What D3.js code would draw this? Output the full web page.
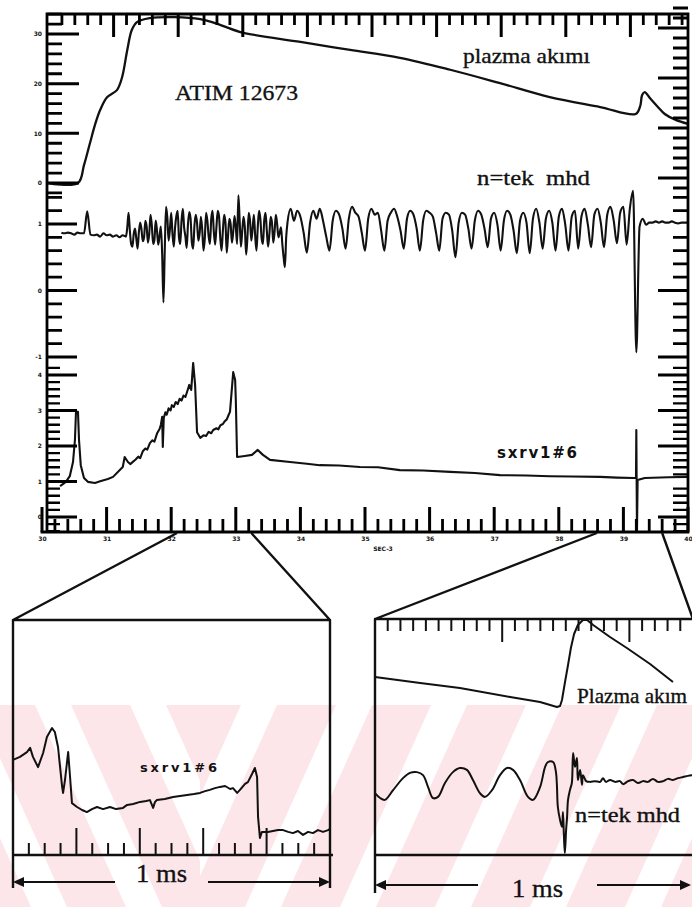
<!DOCTYPE html>
<html>
<head>
<meta charset="utf-8">
<script src="https://cdn.jsdelivr.net/npm/d3@7"></script>
<style>
  body { margin: 0; background: #fff; }
  svg { display: block; }
  .serif { font-family: "Liberation Serif", "Times New Roman", serif; fill: #111; stroke: #111; stroke-width: 0.35px; }
  .mono { font-family: "DejaVu Sans", sans-serif; font-weight: bold; fill: #111; }
  .tick text { font-family: "DejaVu Sans", sans-serif; font-weight: bold; font-size: 6px; fill: #111; }
</style>
</head>
<body>
<svg id="chart" width="692" height="907"></svg>
<script>
// ---------- shot 12673: main oscilloscope record ----------
const mainTimeDomain = [30, 40];                 // ms
const mainTickLabels = ["30","31","32","33","34","35","36","37","38","39","40"];
const mainAxisUnit = "SEC-3";

// plasma current (kA)
const currentT = [30.09,30.557,30.65,30.743,30.82,30.90,31.01,31.16,31.24,31.32,31.39,31.47,31.67,32.06,32.45,32.68,33.07,34.0,34.77,35.54,36.32,37.09,37.86,38.64,39.19,39.26,39.29,39.33,39.41,39.52,39.64,39.81,40.0];
const currentI = [0,0,3.6,8.05,11.7,14.7,17.3,18.7,21.3,26.8,30.8,32.4,33.2,33.4,33.0,32.2,30.4,28.4,26.8,25.2,22.8,20.1,17.3,15.3,13.9,15.5,17.7,18.3,17.1,15.5,13.9,12.7,11.9];
const currentTickLabels = ["0","10","20","30"];

// odd-n MHD coil signal: quiet start (0.05 ms samples from 30.30 ms)
const mhdQuietStart = 30.30, mhdQuietStep = 0.05;
const mhdQuiet = [0.87,0.86,0.87,0.86,0.84,0.87,0.86,0.86,1.19,0.84,
                  0.83,0.84,0.81,0.86,0.83,0.84,0.81,0.83,0.80,0.83];
// broadband burst (0.02 ms samples from 31.30 ms)
const mhdBurstStart = 31.30, mhdBurstStep = 0.02;
const mhdBurst = [
  0.81,0.95,1.17,0.90,0.70,0.66,0.85,0.93,0.78,0.63,
  0.88,1.02,0.92,0.74,0.80,1.05,0.96,0.72,0.85,1.14,
  0.98,0.70,0.76,1.05,0.90,0.69,0.82,0.96,0.55,-0.18,
  0.60,1.26,1.10,0.75,0.92,1.17,0.85,0.66,0.95,1.12,
  1.20,0.80,0.70,1.05,1.23,0.95,0.81,0.64,1.00,1.18,
  1.08,0.72,0.63,0.98,1.14,1.02,0.75,0.86,1.11,0.92,
  0.60,0.78,1.17,1.05,0.81,0.70,1.08,1.20,0.88,0.69,
  0.95,1.20,1.12,0.78,0.60,0.90,1.14,1.02,0.57,0.83,
  1.08,1.00,0.72,0.88,1.12,0.96,0.70,1.43,1.05,0.66,
  0.90,1.11,0.95,0.54,0.80,1.17,1.05,0.75,0.93,1.14,
  0.82,0.60,0.95,1.20,1.08,0.78,0.70,1.05,1.17,0.90,
  0.66,0.85,1.11,1.02,0.72,0.88,1.14,1.00,0.80,0.87,
  0.95,0.70,0.50,0.35,0.80,1.02
];
// coherent mode and disruption (0.05 ms samples from 33.85 ms)
const mhdModeStart = 33.85, mhdModeStep = 0.05;
const mhdMode = [
  1.23,1.05,1.20,1.11,0.87,0.57,1.02,1.20,1.08,
  1.23,1.05,0.81,0.60,1.05,1.20,1.14,0.93,0.63,1.08,
  1.26,1.17,1.11,0.87,0.60,1.08,1.23,1.14,1.17,0.90,
  0.60,1.05,1.17,1.23,1.11,0.90,0.63,1.08,1.20,1.14,
  0.93,0.60,1.05,1.20,1.17,1.11,0.87,0.60,1.08,1.17,
  1.14,0.90,0.50,1.02,1.17,1.14,0.93,0.63,1.05,1.20,
  1.14,0.93,0.65,1.08,1.17,0.99,0.60,1.05,1.20,1.14,
  0.90,0.56,1.05,1.17,1.02,0.56,1.08,1.23,1.02,0.63,
  1.08,1.20,1.02,0.60,1.11,1.23,0.99,0.60,1.11,1.20,
  0.63,1.11,1.23,0.99,0.65,1.14,1.23,1.02,0.65,1.14,
  1.26,1.05,0.71,1.17,1.26,0.69,1.23,1.50,-0.93,0.96,
  1.08,0.99,1.02,1.02,1.04,1.02,1.04,1.02,1.02,1.04,
  1.02,1.01,1.02,1.02,1.02
];
const mhdTickLabels = ["-1","0","1"];

// soft X-ray channel sxrv1#6
const sxrT = [30.28,30.37,30.43,30.48,30.51,30.526,30.557,30.573,30.60,30.65,30.71,30.82,30.90,31.02,31.10,31.25,31.28,
  31.33,31.37,31.41,31.45,31.49,31.52,31.56,31.60,31.63,31.67,31.71,31.74,31.78,31.82,31.84,31.86,31.87,31.885,31.91,31.93,31.96,31.99,
  32.01,32.04,32.07,32.10,32.13,32.16,32.19,32.22,32.25,32.28,32.31,32.34,32.37,32.40,32.45,32.50,32.54,32.58,32.62,32.65,32.70,32.73,
  32.76,32.80,32.83,32.86,32.89,32.91,32.96,32.99,33.00,33.02,33.14,33.25,33.34,33.42,33.53,33.84,34.1,34.30,34.6,34.92,35.2,35.54,
  35.9,36.32,36.7,37.09,37.5,37.86,38.2,38.64,38.9,39.16,39.195,39.20,39.21,39.22,39.33,39.7,40.0];
const sxrS = [0.87,0.99,1.15,1.55,2.17,2.96,2.96,2.17,1.46,1.10,0.99,0.96,1.01,1.07,1.13,1.41,1.69,
  1.55,1.49,1.56,1.62,1.70,1.66,1.85,1.93,1.90,2.08,2.16,2.12,2.35,2.48,2.60,2.82,1.97,2.79,2.95,2.88,3.06,3.00,
  3.15,3.10,3.24,3.18,3.33,3.28,3.42,3.38,3.55,3.72,3.58,4.34,3.72,2.39,2.23,2.30,2.28,2.40,2.36,2.45,2.50,2.47,
  2.58,2.62,2.70,2.75,2.88,2.96,4.08,3.86,3.30,1.69,1.72,1.75,1.89,1.75,1.61,1.55,1.50,1.46,1.45,1.41,1.40,1.32,
  1.31,1.27,1.24,1.18,1.17,1.15,1.14,1.13,1.11,1.10,1.10,2.45,-0.42,1.04,1.10,1.12,1.13];
const sxrTickLabels = ["0","1","2","3","4"];

// expanded time windows (ms on the main record)
const leftZoomWindow = [32.09, 33.24];
const rightZoomWindow = [38.59, 39.60];

// ---------- left expansion: sxrv1#6 over 1 ms ----------
const insetSxrT = [0,0.022,0.044,0.054,0.063,0.079,0.095,0.107,0.123,0.132,0.142,0.155,0.158,0.164,0.174,0.180,0.186,0.202,0.218,0.233,0.249,0.265,0.284,0.306,0.325,0.347,0.360,0.379,0.401,0.420,0.432,0.442,0.448,0.454,0.479,0.505,0.527,0.549,0.571,0.590,0.606,0.621,0.637,0.653,0.669,0.685,0.694,0.707,0.716,0.732,0.741,0.754,0.763,0.770,0.773,0.779,0.785,0.804,0.820,0.836,0.852,0.868,0.883,0.899,0.915,0.931,0.946,0.962,0.978,0.994,1.0];
const insetSxrS = [3.17,3.27,3.43,3.57,3.27,2.93,3.40,3.93,4.23,4.10,3.60,2.27,2.07,2.50,3.43,2.60,1.73,1.60,1.50,1.43,1.53,1.60,1.53,1.60,1.53,1.57,1.67,1.70,1.77,1.80,1.83,1.57,1.77,1.83,1.87,1.93,1.97,2.00,2.03,2.07,2.13,2.17,2.23,2.27,2.30,2.20,2.23,2.07,2.17,2.37,2.43,2.70,2.90,2.60,1.27,0.57,0.77,0.77,0.80,0.83,0.83,0.77,0.73,0.80,0.67,0.77,0.73,0.83,0.77,0.83,0.87];

// ---------- right expansion: plasma current + odd-n MHD over 1 ms ----------
const insetIpT = [0,0.142,0.267,0.425,0.519,0.572,0.582,0.588,0.597,0.607,0.616,0.626,0.638,0.654,0.667,0.686,0.739,0.792,0.865,0.937];
const insetIpI = [4.3,3.7,3.2,2.3,1.8,1.3,1.4,2.0,3.7,5.5,7.2,8.6,9.5,10.0,10.0,9.5,8.3,7.2,5.6,3.8];
const insetMhdT = [0,0.016,0.031,0.057,0.088,0.110,0.132,0.151,0.167,0.182,0.198,0.220,0.245,0.267,0.289,0.308,0.330,0.346,0.368,0.393,0.415,0.434,0.456,0.481,0.497,0.519,0.535,0.544,0.560,0.569,0.572,0.575,0.582,0.588,0.591,0.594,0.597,0.601,0.604,0.607,0.613,0.619,0.623,0.629,0.635,0.638,0.645,0.651,0.654,0.664,0.676,0.692,0.708,0.717,0.726,0.739,0.755,0.770,0.780,0.796,0.811,0.827,0.843,0.858,0.874,0.890,0.906,0.921,0.937,0.953,0.969,0.984,1.0];
const insetMhdV = [-0.35,-0.48,-0.53,-0.27,0.05,0.19,0.21,0.13,-0.19,-0.48,-0.45,-0.08,0.21,0.32,0.27,0.00,-0.35,-0.45,-0.27,0.13,0.32,0.27,0.00,-0.45,-0.53,-0.19,0.35,0.48,0.48,0.21,-0.13,-0.72,-1.07,-1.25,-0.85,-1.47,-1.95,-1.33,-0.99,-0.53,-0.27,-0.08,0.72,0.35,0.59,0.00,0.27,-0.13,0.13,-0.03,-0.05,-0.03,-0.05,0.05,-0.05,0.00,-0.05,-0.03,-0.11,-0.03,0.00,-0.08,-0.03,-0.05,0.03,-0.05,-0.03,0.03,0.00,0.05,0.08,0.11,0.13];

// ================== drawing ==================
const svg = d3.select("#chart");
const INK = "#111";

// faint diagonal background print in the lower part of the sheet
(function background() {
  const g = svg.append("g");
  const top = 705, bottom = 907, run = 91, band = 36, period = 95;
  g.append("rect").attr("x", 0).attr("y", top).attr("width", 692).attr("height", bottom - top).attr("fill", "#fce6e9");
  const defs = svg.append("defs");
  [["bgL", 0, 200], ["bgR", 200, 692]].forEach(([id, x0, x1]) => {
    defs.append("clipPath").attr("id", id).append("rect").attr("x", x0).attr("y", top).attr("width", x1 - x0).attr("height", bottom - top);
  });
  const back = g.append("g").attr("clip-path", "url(#bgL)");
  d3.range(-2, 3).forEach(k => {
    const a = 35 + k * period;
    back.append("polygon").attr("fill", "#fff")
      .attr("points", [[a, top], [a + band, top], [a + band + run, bottom], [a + run, bottom]].join(" "));
  });
  const fwd = g.append("g").attr("clip-path", "url(#bgR)");
  d3.range(0, 9).forEach(k => {
    const b = 150 + k * period;
    fwd.append("polygon").attr("fill", "#fff")
      .attr("points", [[b, bottom], [b + band, bottom], [b + band + run, top], [b + run, top]].join(" "));
  });
})();

// scales of the main record
const xM   = d3.scaleLinear().domain(mainTimeDomain).range([42, 688]);
const xTop = d3.scaleLinear().domain(mainTimeDomain).range([49, 695]);
const yI   = d3.scaleLinear().domain([0, 30]).range([183, 34]);
const yIr  = d3.scaleLinear().domain([0, 30]).range([178, 28]);
const yM   = d3.scaleLinear().domain([-1, 1]).range([357, 224]);
const yS   = d3.scaleLinear().domain([0, 4]).range([517, 375]);

// evenly spaced tick values
function tickValues(first, count, spacing) {
  const out = [];
  for (let k = 0; k < count; k++) out.push(Math.round((first + k * spacing) * 1000) / 1000);
  return out;
}
const isWhole = d => Math.abs(d - Math.round(d)) < 1e-6;

// one stroked path per comb of tick marks along an edge
function combPath(scale, values, along, at, len) {
  return values.map(v => {
    const p = scale(v);
    return along === "x" ? `M${p},${at}V${at + len}` : `M${at},${p}H${at + len}`;
  }).join("");
}
// tick labels through d3 axes
function tickLabels(parent, axis, values, labels, pad) {
  const g = parent.append("g");
  g.call(axis.tickValues(values).tickSize(0).tickPadding(pad).tickFormat((d, i) => labels[i]));
  g.select(".domain").remove();
  return g;
}

// ---- traces of the main record ----
const traces = svg.append("g").attr("fill", "none").attr("stroke", INK).attr("stroke-linejoin", "round");
const currentLine = d3.line().x(d => xM(d[0])).y(d => yI(d[1])).curve(d3.curveCatmullRom.alpha(0.5));
traces.append("path").attr("stroke-width", 2.3)
  .attr("d", currentLine(currentT.map((t, i) => [t, currentI[i]])));

const mhdPoints = [
  ...mhdQuiet.map((v, i) => [mhdQuietStart + i * mhdQuietStep, v]),
  ...mhdBurst.map((v, i) => [mhdBurstStart + i * mhdBurstStep, v]),
  ...mhdMode.map((v, i) => [mhdModeStart + i * mhdModeStep, v])
];
const mhdLine = d3.line().x(d => xM(d[0])).y(d => yM(d[1])).curve(d3.curveMonotoneX);
traces.append("path").attr("stroke-width", 2.1).attr("d", mhdLine(mhdPoints));

const sxrLine = d3.line().x(d => xM(d[0])).y(d => yS(d[1]));
traces.append("path").attr("stroke-width", 2.1)
  .attr("d", sxrLine(sxrT.map((t, i) => [t, sxrS[i]])));

// ---- frame and scale ticks of the main record ----
const scaleG = svg.append("g").attr("fill", "none").attr("stroke", "#000");
scaleG.append("path").attr("stroke-width", 2.8).attr("stroke-linecap", "square")
  .attr("d", "M42,532H688V14H47V532");
const bottomAll = tickValues(30, 51, 0.2);
const topAll = tickValues(30.2, 49, 0.2);
const iAll = tickValues(-2, 19, 2);
const mAll = tickValues(-0.8, 12, 0.2);
const sAll = tickValues(-0.4, 24, 0.2);
const minorTicks = [
  combPath(xM, bottomAll.filter(d => !isWhole(d)), "x", 532, -13),
  combPath(xTop, topAll.filter(d => !isWhole(d)), "x", 14, 11),
  combPath(yI, iAll.filter(d => d % 10 !== 0), "y", 47, 15),
  combPath(yM, mAll.filter(d => !isWhole(d)), "y", 47, 15),
  combPath(yIr, iAll.filter(d => d % 10 !== 0), "y", 688, -15),
  combPath(yM, mAll.filter(d => !isWhole(d)), "y", 688, -15)
].join("");
const fineTicks = [
  combPath(yS, sAll.filter(d => !isWhole(d)), "y", 47, 13),
  combPath(yS, sAll.filter(d => !isWhole(d)), "y", 688, -15)
].join("");
const majorTicks = [
  combPath(xM, bottomAll.filter(isWhole), "x", 532, -25),
  combPath(xTop, topAll.filter(isWhole), "x", 14, 23),
  combPath(yI, [0, 10, 20, 30], "y", 47, 32),
  combPath(yM, [-1, 0, 1], "y", 47, 30),
  combPath(yS, [0, 1, 2, 3, 4], "y", 47, 30),
  combPath(yIr, [0, 10, 20, 30], "y", 688, -30),
  combPath(yM, [0, -1], "y", 688, -30),
  combPath(yS, [0, 2, 3, 4], "y", 688, -30)
].join("");
scaleG.append("path").attr("stroke-width", 2.8).attr("d", minorTicks);
scaleG.append("path").attr("stroke-width", 2.4).attr("d", fineTicks);
scaleG.append("path").attr("stroke-width", 3).attr("d", majorTicks);

// tick labels
const labelsG = svg.append("g");
tickLabels(labelsG.append("g").attr("transform", "translate(0,532)"), d3.axisBottom(xM), bottomAll.filter(isWhole), mainTickLabels, 5);
labelsG.append("text").attr("class", "mono").attr("x", 383).attr("y", 551).attr("font-size", 6).attr("text-anchor", "middle").text(mainAxisUnit);
const leftLab = labelsG.append("g").attr("transform", "translate(47,0)");
tickLabels(leftLab, d3.axisLeft(yI), [0, 10, 20, 30], currentTickLabels, 5);
tickLabels(leftLab, d3.axisLeft(yM), [-1, 0, 1], mhdTickLabels, 5);
tickLabels(leftLab, d3.axisLeft(yS), [0, 1, 2, 3, 4], sxrTickLabels, 5);

// labels on the main record
svg.append("text").attr("class", "serif").attr("x", 175).attr("y", 100).attr("font-size", 22)
  .attr("textLength", 123).attr("lengthAdjust", "spacingAndGlyphs").text("ATIM 12673");
svg.append("text").attr("class", "serif").attr("x", 463).attr("y", 63).attr("font-size", 22)
  .attr("textLength", 127).attr("lengthAdjust", "spacingAndGlyphs").text("plazma akımı");
svg.append("text").attr("class", "serif").attr("x", 477).attr("y", 185).attr("font-size", 22)
  .attr("textLength", 113).attr("lengthAdjust", "spacingAndGlyphs").style("white-space", "pre").text("n=tek  mhd");
svg.append("text").attr("class", "mono").attr("x", 497).attr("y", 458).attr("font-size", 15)
  .attr("textLength", 80).attr("lengthAdjust", "spacing").text("sxrv1#6");

// ---- left expansion ----
const xL  = d3.scaleLinear().domain([0, 1]).range([13, 330]);
const ySL = d3.scaleLinear().domain([0, 5]).range([855, 705]);
const insetL = svg.append("g").attr("fill", "none").attr("stroke", INK).attr("stroke-linejoin", "round");
insetL.append("path").attr("stroke-width", 2.4)
  .attr("d", `M${xM(leftZoomWindow[0])},533L${xL(0)},620M${xM(leftZoomWindow[1])},533L${xL(1)},620` +
             `M${xL(0)},888V620H${xL(1)}V888M${xL(0)},855H${xL(1) + 3}`);
const lTicks = tickValues(0.05, 19, 0.05);
insetL.append("path").attr("stroke-width", 2)
  .attr("d", combPath(xL, lTicks.filter((d, i) => (i + 1) % 4 !== 0), "x", 855, -12) +
             combPath(xL, [0.2, 0.4, 0.6, 0.8], "x", 855, -27));
insetL.append("path").attr("stroke-width", 2)
  .attr("d", d3.line().x(d => xL(d[0])).y(d => ySL(d[1]))(insetSxrT.map((t, i) => [t, insetSxrS[i]])));
svg.append("text").attr("class", "mono").attr("x", 140).attr("y", 772).attr("font-size", 13)
  .attr("textLength", 77).attr("lengthAdjust", "spacing").text("sxrv1#6");

// ---- right expansion ----
const xR  = d3.scaleLinear().domain([0, 1]).range([375, 693]);
const yIR = d3.scaleLinear().domain([0, 10]).range([720, 620]);
const yMR = d3.scaleLinear().domain([-2, 2]).range([855, 705]);
const insetR = svg.append("g").attr("fill", "none").attr("stroke", INK).attr("stroke-linejoin", "round");
insetR.append("path").attr("stroke-width", 2.4)
  .attr("d", `M${xM(rightZoomWindow[0])},533L${xR(0)},619M${xM(rightZoomWindow[1])},533L${xR(1)},619` +
             `M${xR(1)},619H${xR(0)}V893M${xR(0)},855H${xR(1)}`);
const rTicks = tickValues(0.04, 24, 0.04);
insetR.append("path").attr("stroke-width", 2)
  .attr("d", combPath(xR, rTicks.filter((d, i) => (i + 1) % 10 !== 0), "x", 619, 12) +
             combPath(xR, [0.4, 0.8], "x", 619, 23));
insetR.append("path").attr("stroke-width", 2)
  .attr("d", d3.line().x(d => xR(d[0])).y(d => yIR(d[1]))(insetIpT.map((t, i) => [t, insetIpI[i]])));
insetR.append("path").attr("stroke-width", 2)
  .attr("d", d3.line().x(d => xR(d[0])).y(d => yMR(d[1])).curve(d3.curveCatmullRom.alpha(0.5))(insetMhdT.map((t, i) => [t, insetMhdV[i]])));
svg.append("text").attr("class", "serif").attr("x", 577).attr("y", 703).attr("font-size", 21)
  .attr("textLength", 110).attr("lengthAdjust", "spacingAndGlyphs").text("Plazma akım");
svg.append("text").attr("class", "serif").attr("x", 575).attr("y", 822).attr("font-size", 21)
  .attr("textLength", 105).attr("lengthAdjust", "spacingAndGlyphs").text("n=tek mhd");

// ---- 1 ms dimension arrows ----
function dimension(x0, x1, gapL, gapR, y, ty) {
  const g = svg.append("g");
  g.append("path").attr("fill", "none").attr("stroke", INK).attr("stroke-width", 2.2)
    .attr("d", `M${x0 + 6},${y}H${gapL}M${gapR},${y}H${x1 - 6}`);
  g.append("polygon").attr("fill", INK).attr("points", [[x0, y], [x0 + 11, y - 5], [x0 + 11, y + 5]].join(" "));
  g.append("polygon").attr("fill", INK).attr("points", [[x1, y], [x1 - 11, y - 5], [x1 - 11, y + 5]].join(" "));
  g.append("text").attr("class", "serif").attr("x", (gapL + gapR) / 2).attr("y", ty).attr("font-size", 25)
    .attr("text-anchor", "middle").attr("textLength", 51).attr("lengthAdjust", "spacingAndGlyphs").text("1 ms");
}
dimension(xL(0), xL(1), 115, 208, 882, 882);
dimension(xR(0), 691, 478, 597, 885, 897);
</script>
</body>
</html>
